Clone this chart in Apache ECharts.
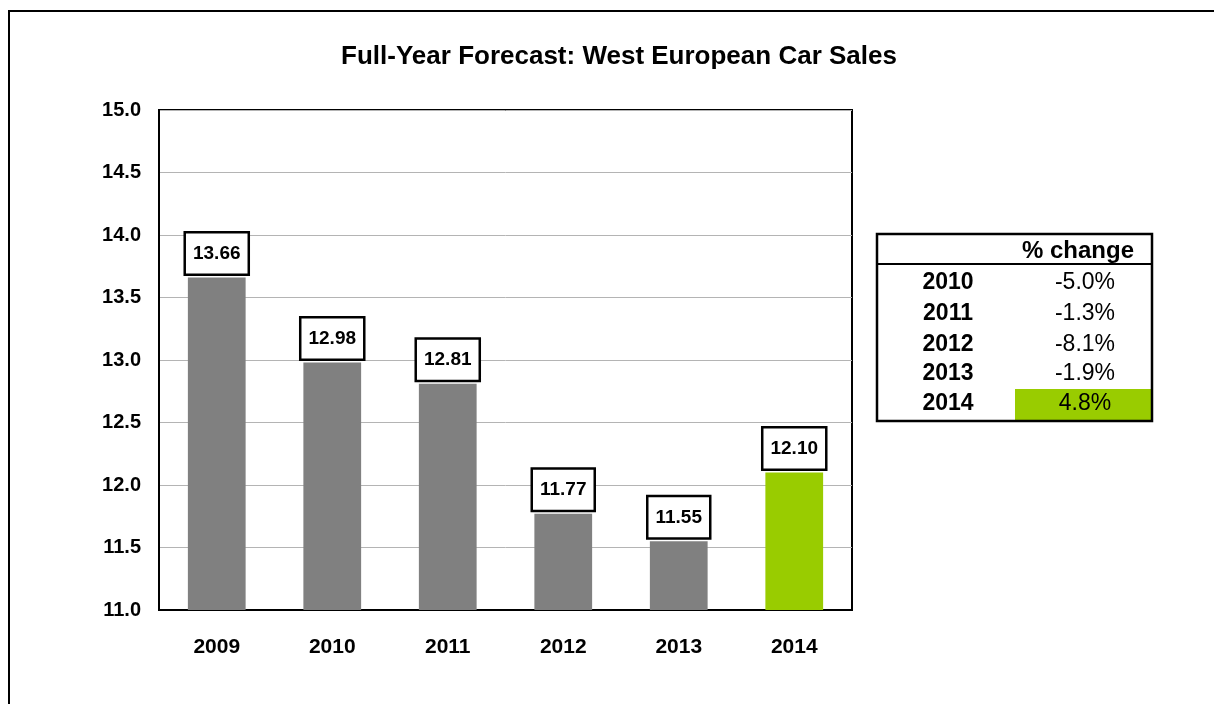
<!DOCTYPE html>
<html>
<head>
<meta charset="utf-8">
<script src="https://cdn.jsdelivr.net/npm/echarts@6/dist/echarts.min.js"></script>
<style>
  html, body { margin: 0; padding: 0; background: #fff; }
  #chart { width: 1214px; height: 704px; }
</style>
</head>
<body>
<div id="chart"></div>
<script>
// chart data
var years = ['2009', '2010', '2011', '2012', '2013', '2014'];
var sales = [13.66, 12.98, 12.81, 11.77, 11.55, 12.10];
var barColors = ['#808080', '#808080', '#808080', '#808080', '#808080', '#99cc00'];

// side table
var tableYears = ['2010', '2011', '2012', '2013', '2014'];
var tableChange = ['-5.0%', '-1.3%', '-8.1%', '-1.9%', '4.8%'];
var tableHeader = '% change';

var font = 'Arial, "Liberation Sans", sans-serif';

var chart = echarts.init(document.getElementById('chart'));

// table built with graphic elements
var tbl = { x: 877, y: 234, w: 275, h: 187, headH: 30, rowH: 31, yearX: 948, valX: 1085 };
var tableEls = [];
// green highlight for last row
tableEls.push({
  type: 'rect',
  shape: { x: 1015, y: 389, width: 136, height: 31 },
  style: { fill: '#99cc00' }
});
tableEls.push({
  type: 'rect',
  shape: { x: tbl.x, y: tbl.y, width: tbl.w, height: tbl.h },
  style: { fill: 'none', stroke: '#000', lineWidth: 2.5 }
});
tableEls.push({
  type: 'line',
  shape: { x1: tbl.x, y1: tbl.y + tbl.headH, x2: tbl.x + tbl.w, y2: tbl.y + tbl.headH },
  style: { stroke: '#000', lineWidth: 2 }
});
tableEls.push({
  type: 'text',
  x: 1078, y: 251,
  style: { text: tableHeader, font: 'bold 24px ' + font, fill: '#000', align: 'center', verticalAlign: 'middle' }
});
var rowCenters = [283, 314, 345, 374, 404];
tableYears.forEach(function (yr, i) {
  var cy = rowCenters[i];
  tableEls.push({
    type: 'text', x: tbl.yearX, y: cy,
    style: { text: yr, font: 'bold 23px ' + font, fill: '#000', align: 'center', verticalAlign: 'middle' }
  });
  tableEls.push({
    type: 'text', x: tbl.valX, y: cy,
    style: { text: tableChange[i], font: '23px ' + font, fill: '#000', align: 'center', verticalAlign: 'middle' }
  });
});

var option = {
  animation: false,
  backgroundColor: '#fff',
  title: {
    text: 'Full-Year Forecast: West European Car Sales',
    left: 614,
    textAlign: 'center',
    top: 39,
    textStyle: { fontFamily: font, fontWeight: 'bold', fontSize: 26, color: '#000' }
  },
  grid: { left: 159, right: 362, top: 110, bottom: 94, show: true, borderColor: '#000', borderWidth: 2 },
  xAxis: {
    type: 'category',
    data: years,
    axisLine: { lineStyle: { color: '#000', width: 2 } },
    axisTick: { show: false },
    axisLabel: { margin: 27, fontFamily: font, fontWeight: 'bold', fontSize: 21, color: '#000' }
  },
  yAxis: {
    type: 'value',
    min: 11,
    max: 15,
    interval: 0.5,
    axisLine: { show: true, lineStyle: { color: '#000', width: 2 } },
    axisTick: { show: false },
    splitLine: { lineStyle: { color: '#b4b4b4', width: 1 } },
    axisLabel: {
      margin: 18, fontFamily: font, fontWeight: 'bold', fontSize: 20, color: '#000',
      formatter: function (v) { return v.toFixed(1); }
    }
  },
  series: [{
    type: 'bar',
    barWidth: '50%',
    data: sales.map(function (v, i) {
      return { value: v, itemStyle: { color: barColors[i] } };
    }),
    label: {
      show: true,
      position: 'top',
      distance: 4,
      formatter: function (p) { return p.value.toFixed(2); },
      fontFamily: font,
      fontWeight: 'bold',
      fontSize: 19,
      color: '#000',
      backgroundColor: '#fff',
      borderColor: '#000',
      borderWidth: 2.5,
      padding: [11, 7, 10, 7]
    }
  }],
  graphic: [
    {
      type: 'rect',
      shape: { x: 9, y: 11, width: 1300, height: 800 },
      style: { fill: 'none', stroke: '#000', lineWidth: 2 },
      z: 100
    }
  ].concat(tableEls)
};

chart.setOption(option);
</script>
</body>
</html>
